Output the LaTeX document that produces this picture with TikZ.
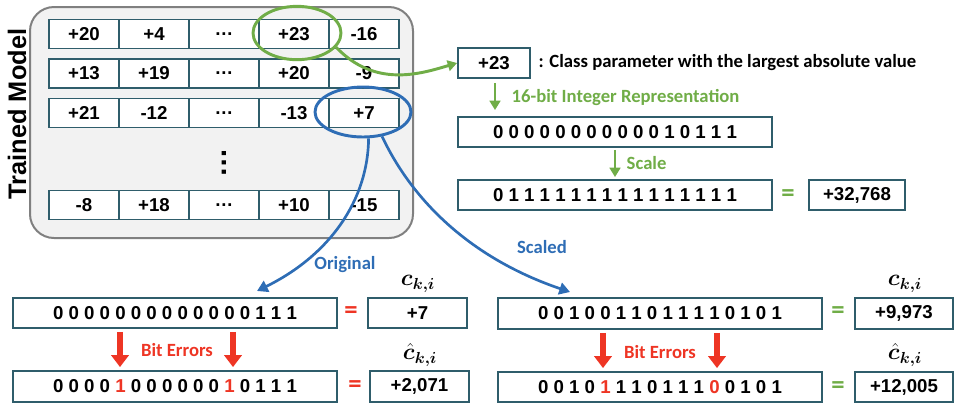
\documentclass[tikz,border=0pt]{standalone}
\usepackage{fontspec}
\usepackage{bm}
\setmainfont{Liberation Sans}
\newfontfamily\calibri{Carlito}
\usetikzlibrary{arrows.meta,calc,shapes.geometric}
\definecolor{boxteal}{HTML}{2F5D6B}
\definecolor{pgreen}{HTML}{70AD47}
\definecolor{pblue}{HTML}{2E6DB5}
\definecolor{pred}{HTML}{EE3524}
\definecolor{modelgray}{HTML}{808080}
\definecolor{modelfill}{HTML}{F2F2F2}
\newcommand{\flip}[1]{\textcolor{pred}{#1}}

\begin{document}
\begin{tikzpicture}[x=0.75pt, y=-0.75pt,
  every node/.style={font=\fontsize{14pt}{16pt}\selectfont\bfseries},
  cell/.style={draw=boxteal, line width=1.4pt, fill=white, inner sep=0pt,
    minimum width=52.5pt, minimum height=21.75pt},
  numbox/.style={cell, minimum height=22.5pt},
  note/.style={font=\calibri\bfseries\fontsize{14pt}{16pt}\selectfont},
  eqsign/.style={font=\calibri\bfseries\fontsize{20pt}{20pt}\selectfont},
  sym/.style={font=\fontsize{17pt}{18pt}\selectfont, inner sep=1pt},
  ring/.style={ellipse, draw, line width=2.2pt, inner sep=0pt},
  grnarrow/.style={draw=pgreen, line width=2.2pt, -{Triangle[length=7pt,width=8pt]}},
  bluarrow/.style={draw=pblue, line width=2pt, -{Triangle[length=8pt,width=9pt]}},
  errarrow/.style={draw=pred, line width=4pt, -{Triangle[length=9pt,width=13pt]}}]
  \useasboundingbox (0,0) rectangle (959,408);

  % trained model
  \node[draw=modelgray, fill=modelfill, line width=1.5pt, rounded corners=18pt,
    minimum width=287.25pt, minimum height=173.25pt] (model) at (221.5,122.5) {};
  \node[rotate=90, font=\fontsize{19pt}{20pt}\selectfont\bfseries] (modellbl) at (17,114) {Trained Model};
  \foreach \vals [count=\r] in {{+20,+4,…,+23,-16},{+13,+19,…,+20,-9},{+21,-12,…,-13,+7},{-8,+18,…,+10,-15}}{
    \pgfmathsetmacro\yy{{34,73.5,113,205}[\r-1]}
    \foreach \v [count=\c] in \vals
      \node[cell] (c-\r-\c) at (14+70*\c,\yy) {\v};
  }
  \node[rotate=90, font=\fontsize{22pt}{22pt}\selectfont\bfseries] (vdots) at (224,163) {…};
  \node[ring, draw=pgreen, minimum width=66pt, minimum height=40pt] (maxring) at (297,33) {};
  \node[ring, draw=pblue, minimum width=72pt, minimum height=37.5pt] (selring) at (363,112) {};

  % largest parameter and scaling
  \node[numbox, minimum width=54pt] (maxval) at (494,63) {+23};
  \node[note, anchor=west] (maxnote) at (534,63) {: Class parameter with the largest absolute value};
  \node[numbox, minimum width=235.5pt] (intbits) at (615,132) {0 0 0 0 0 0 0 0 0 0 0 1 0 1 1 1};
  \node[numbox, minimum width=235.5pt] (fullbits) at (615,195) {0 1 1 1 1 1 1 1 1 1 1 1 1 1 1 1};
  \node[eqsign, text=pgreen] (fulleq) at (788,196) {=};
  \node[numbox, minimum width=72pt] (fullval) at (857,195) {+32,768};
  \node[note, text=pgreen, anchor=west] (intlbl) at (507,98) {16-bit Integer Representation};
  \node[note, text=pgreen, anchor=west] (scalelbl) at (622,163) {Scale};

  \draw[grnarrow] (maxring.-20) .. controls (375,88) and (420,74) .. (maxval.west);
  \draw[grnarrow] ($(maxval.south)+(1,4)$) -- ($(maxval.south |- intbits.north)+(1,-6)$);
  \draw[grnarrow] ($(intbits.south)+(0,2)$) -- ($(fullbits.north)+(0,-2)$);

  % original
  \node[numbox, minimum width=243pt] (origbits) at (175,313) {0 0 0 0 0 0 0 0 0 0 0 0 0 1 1 1};
  \node[numbox, minimum width=243pt, minimum height=23.25pt] (origflip) at (175,386.5)
    {0 0 0 0 \flip{1} 0 0 0 0 0 0 \flip{1} 0 1 1 1};
  \node[eqsign, text=pred] (origeq) at (351,313) {=};
  \node[eqsign, text=pred] (origflipeq) at (355,387) {=};
  \node[numbox, minimum width=74.25pt] (origval) at (417.5,313) {+7};
  \node[numbox, minimum width=74.25pt, minimum height=23.25pt] (origflipval) at (419.5,386.5) {+2,071};
  \node[sym] (origc) at (418,284) {$\bm{c_{k,i}}$};
  \node[sym] (origflipc) at (420,355) {$\bm{\hat{c}_{k,i}}$};
  \node[note, text=pred] (origerr) at (177,350) {Bit Errors};
  \draw[errarrow] ($(origbits.south)+(-55,3)$) -- ($(origflip.north)+(-55,-3)$);
  \draw[errarrow] ($(origbits.south)+(58,3)$) -- ($(origflip.north)+(58,-3)$);

  % scaled
  \node[numbox, minimum width=243pt, minimum height=23.25pt] (scbits) at (660,313.5) {0 0 1 0 0 1 1 0 1 1 1 1 0 1 0 1};
  \node[numbox, minimum width=243pt] (scflip) at (660,387)
    {0 0 1 0 \flip{1} 1 1 0 1 1 1 \flip{0} 0 1 0 1};
  \node[eqsign, text=pgreen] (sceq) at (838,313) {=};
  \node[eqsign, text=pgreen] (scflipeq) at (838,388) {=};
  \node[numbox, minimum width=73.5pt, minimum height=23.25pt] (scval) at (904,313.5) {+9,973};
  \node[numbox, minimum width=73.5pt] (scflipval) at (904,387) {+12,005};
  \node[sym] (scc) at (905,284) {$\bm{c_{k,i}}$};
  \node[sym] (scflipc) at (905,355) {$\bm{\hat{c}_{k,i}}$};
  \node[note, text=pred] (scerr) at (660,352) {Bit Errors};
  \draw[errarrow] ($(scbits.south)+(-57,3)$) -- ($(scflip.north)+(-57,-3)$);
  \draw[errarrow] ($(scbits.south)+(57,3)$) -- ($(scflip.north)+(57,-3)$);

  % selection curves
  \coordinate (origtip) at (257,291);
  \coordinate (sctip) at (570,292);
  \node[note, text=pblue] (origlbl) at (345,265) {Original};
  \node[note, text=pblue] (sclbl) at (542,247) {Scaled};
  \draw[bluarrow] (selring.-78) .. controls (368,200) and (330,255) .. (origtip);
  \draw[bluarrow] (selring.-52) .. controls (412,200) and (470,258) .. (sctip);
\end{tikzpicture}
\end{document}
